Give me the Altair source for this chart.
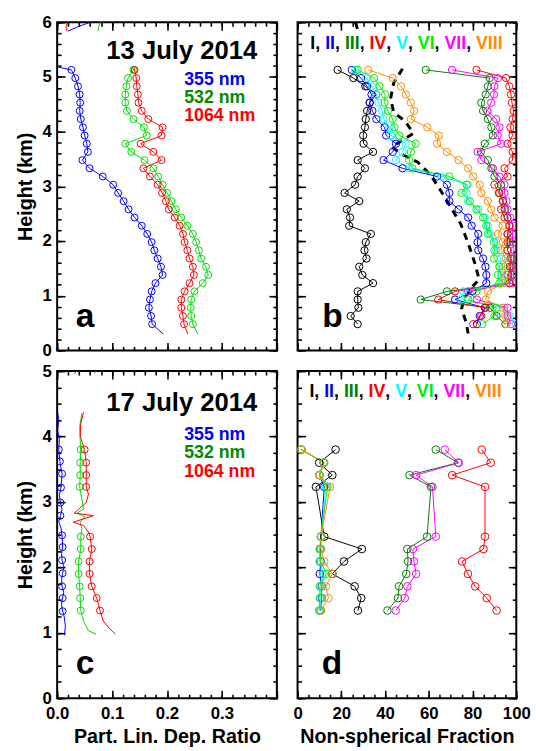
import altair as alt
import pandas as pd

FONT = "Liberation Sans"

# ---------------- Panel a : 13 July 2014, particle linear depolarization ratio ----------------
A_H = [5.13, 4.98, 4.83, 4.68, 4.53, 4.38, 4.23, 4.08, 3.93, 3.78, 3.63, 3.48, 3.33, 3.18, 3.03, 2.88,
       2.73, 2.58, 2.43, 2.28, 2.13, 1.98, 1.83, 1.68, 1.53, 1.38, 1.23, 1.08, 0.93, 0.78, 0.63, 0.48]
A_355 = [0.026, 0.033, 0.038, 0.041, 0.042, 0.041, 0.043, 0.047, 0.050, 0.054, 0.056, 0.046, 0.059, 0.083,
         0.102, 0.111, 0.121, 0.130, 0.141, 0.154, 0.164, 0.172, 0.177, 0.183, 0.189, 0.192, 0.179, 0.172,
         0.169, 0.167, 0.171, 0.173]
A_532 = [0.139, 0.129, 0.126, 0.124, 0.124, 0.127, 0.139, 0.158, 0.163, 0.124, 0.135, 0.159, 0.175, 0.184,
         0.192, 0.200, 0.208, 0.216, 0.226, 0.237, 0.247, 0.253, 0.258, 0.262, 0.271, 0.275, 0.265, 0.250,
         0.244, 0.243, 0.244, 0.247]
A_1064 = [0.141, 0.144, 0.145, 0.147, 0.148, 0.154, 0.166, 0.192, 0.190, 0.152, 0.175, 0.190, 0.157, 0.169,
          0.183, 0.191, 0.198, 0.203, 0.214, 0.223, 0.229, 0.232, 0.237, 0.241, 0.247, 0.249, 0.241, 0.232,
          0.226, 0.226, 0.229, 0.231]
# extra line vertices (profile ends)
A_X_H = [5.18, 0.30]
A_X_355 = [0.002, 0.193]
A_X_532 = [0.137, 0.256]
A_X_1064 = [0.140, 0.238]
# short profile fragments near 6 km
A_F_H = [5.84, 5.92, 6.00]
A_F_355 = [0.020, 0.038, 0.060]
A_F_532 = [0.074, 0.076, 0.078]
A_F_1064 = [0.018, 0.016, 0.019]

# ---------------- Panel b : 13 July 2014, non-spherical fraction ----------------
B_H = A_H
B_I = [18.3, 25.5, 31, 36, 33, 31.8, 31.2, 30.8, 30, 30.2, 34.5, 27.5, 30.8, 27.5, 26.3, 21.5,
       28.2, 22.5, 24, 23.6, 33.5, 31.2, 30.6, 31.5, 28.2, 29.6, 34.5, 27.5, 27.5, 27.8, 24.3, 27.5]
B_II = [24.8, 29, 31.8, 33.8, 33, 34.2, 36, 39.8, 40.5, 45, 43.5, 39.3, 48, 63.8, 68.3, 69.4,
        69.4, 73.6, 78, 79.6, 82.6, 82.3, 82.6, 84.8, 85.9, 86.3, 86.3, 80, 72, 85.6, 83.3, 82]
B_III = [58.6, 87.8, 87, 86, 84, 84.8, 87, 88.6, 89.3, 85.6, 83.8, 87, 88.6, 90, 93, 92,
         94, 95, 96, 97, 96, 97, 96, 98, 97, 98, 97, 68.3, 56.3, 88, 91, 95]
B_IV = [81.8, 95.3, 96.8, 97.6, 98, 98.8, 98.3, 97.3, 98.3, 96, 98.3, 98.3, 94.6, 96, 90, 92.3,
        93.8, 93, 94.6, 96.8, 96, 96, 96, 97.3, 97.6, 96, 96.8, 72, 64.3, 86, 84, 80.3]
B_V = [26.3, 31.5, 34, 36, 37, 38.7, 39.3, 42, 42.8, 49.5, 48, 45, 51, 66, 77.8, 77.3,
       78, 82.6, 85.6, 87, 87.8, 90.8, 90.8, 93, 92.3, 93, 93.8, 75.8, 75, 94.6, 97, 99.8]
B_VI = [27.5, 35, 37.5, 40, 39.8, 41.3, 43.5, 44.3, 46.5, 54, 51.8, 51, 52.5, 69.4, 77.3, 75,
        78.8, 81.8, 84.8, 86.3, 87, 89.8, 90, 89.8, 92.3, 91.6, 92.3, 81.8, 78, 90.8, 90, 84.5]
B_VII = [70.6, 91.6, 90, 89.8, 88.5, 86.8, 90.8, 92.3, 91.5, 93, 82.3, 84, 89.3, 92.3, 94.6, 94.6,
         95.5, 96, 97.3, 98.3, 98.3, 98.3, 99, 99, 98.3, 98.8, 98.3, 78, 82, 96, 96, 97.6]
B_VIII = [32.3, 43.5, 47.3, 49.5, 51.8, 53.3, 51.8, 59.3, 64.6, 63.8, 68.3, 73.6, 78, 80.3, 83.3, 84,
          87, 88.6, 90, 93.8, 91.6, 93.8, 93, 95.3, 94.6, 95.3, 94.6, 87, 86, 93.8, 95, 95.3]
B_DASH_H = [5.15, 4.90, 4.60, 4.35, 4.20, 3.97, 3.72, 3.58, 3.44, 3.20, 2.95, 2.62, 2.32, 1.96, 1.60,
            1.30, 1.12, 0.94, 0.76, 0.52, 0.31]
B_DASH = [48, 44, 42.5, 44, 49, 53, 43, 48, 55, 61, 65, 70, 74.5, 78, 81, 83, 79, 76, 75, 77, 78]
B_F_H = [5.86, 6.00]
B_F = [27.5, 26.5]

# ---------------- Panel c : 17 July 2014, particle linear depolarization ratio ----------------
C_355_H = [3.80, 3.62, 3.43, 3.22, 2.99, 2.79, 2.49, 2.31, 2.11, 1.91, 1.71, 1.53, 1.33]
C_355 = [0.003, 0.005, 0.009, 0.007, 0.006, 0.006, 0.009, 0.010, 0.009, 0.010, 0.009, 0.010, 0.010]
C_H = [3.80, 3.60, 3.41, 3.23, 2.47, 2.28, 2.09, 1.90, 1.71, 1.53, 1.34]
C_532 = [0.043, 0.042, 0.042, 0.041, 0.043, 0.043, 0.039, 0.039, 0.041, 0.042, 0.043]
C_1064 = [0.050, 0.053, 0.053, 0.053, 0.060, 0.063, 0.059, 0.059, 0.063, 0.072, 0.078]
C_X355_H = [4.37, 4.25, 4.10, 3.95, 3.52, 3.10, 2.89, 2.70, 2.60, 2.21, 2.01, 1.81, 1.62, 1.43, 1.24, 1.10, 0.96]
C_X355 = [0.001, 0.003, 0.001, 0.004, 0.007, 0.004, 0.009, 0.003, 0.007, 0.008, 0.012, 0.008, 0.012, 0.008,
          0.013, 0.015, 0.013]
C_X532_H = [4.36, 4.15, 3.95, 3.04, 2.89, 2.83, 2.77, 2.70, 2.59, 1.18, 1.03, 0.98]
C_X532 = [0.045, 0.041, 0.042, 0.045, 0.048, 0.036, 0.051, 0.042, 0.045, 0.048, 0.057, 0.071]
C_X1064_H = [4.37, 4.20, 4.00, 3.12, 2.99, 2.83, 2.79, 2.69, 2.64, 2.54, 1.18, 1.06, 0.98]
C_X1064 = [0.048, 0.043, 0.042, 0.057, 0.053, 0.031, 0.066, 0.029, 0.048, 0.057, 0.084, 0.096, 0.106]
C_F_H = [4.96, 5.00]
C_F_532 = [0.068, 0.071]
C_F_1064 = [0.031, 0.036]

# ---------------- Panel d : 17 July 2014, non-spherical fraction ----------------
D_H = C_H
D_I = [17.4, 9.9, 15.9, 8.4, 12.2, 29.4, 21.2, 15.9, 26.1, 29.1, 27.6]
D_II = [1.7, 12, 10, 12.2, 10.7, 10.5, 10.5, 10.2, 11, 11, 10.5]
D_III = [63.2, 73.4, 51.2, 61, 59.2, 50.2, 50.5, 49.7, 46.4, 45.9, 41.1]
D_IV = [84.2, 88.3, 70.7, 85.7, 85.7, 85, 75.2, 77.9, 81.2, 86.5, 91]
D_V = [1.7, 12, 10, 13, 10.7, 10, 10, 12, 10.8, 10.8, 10.3]
D_VI = [1.7, 12, 10, 13.7, 10.7, 10.3, 10.5, 13.2, 10.2, 10.2, 9.9]
D_VII = [67.3, 73.7, 54.2, 61.7, 63.2, 52.7, 53.2, 54.2, 50.2, 49, 44.9]
D_VIII = [1.7, 12.2, 10.2, 14.9, 10.7, 10.7, 12.2, 15.9, 12.9, 14.1, 10.7]

WL = ["355 nm", "532 nm", "1064 nm"]
WL_LINE_COLORS = ["#0000FF", "#00DD00", "#FF0000"]
WL_TEXT_COLORS = ["#0000FF", "#008C00", "#FF0000"]
ROMAN = ["I", "II", "III", "IV", "V", "VI", "VII", "VIII"]
ROMAN_COLORS = ["#000000", "#0000FF", "#008000", "#FF0000", "#00FFFF", "#00EE00", "#FF00FF", "#FF8C00"]

CORNER = pd.DataFrame({"v": [0.0], "h": [0.0]})


def series(h, v, s, g=None):
    d = pd.DataFrame({"h": h, "v": v})
    d["s"] = s
    d["g"] = g if g is not None else s
    return d


def lines_df(parts):
    out = []
    for p in parts:
        out.append(p.sort_values("h", ascending=False).reset_index(drop=True).assign(i=lambda d: range(len(d))))
    return pd.concat(out, ignore_index=True)


def axis(orient, values, size, labels=False, title=None, fmt=None, expr=None):
    kw = dict(orient=orient, values=values, offset=-size, tickSize=size, tickWidth=1.6,
              tickColor="black", domain=False, grid=False, labels=labels, ticks=True)
    if labels:
        kw.update(labelFont=FONT, labelFontSize=17, labelFontWeight="bold", labelColor="black",
                  labelPadding=8 if orient == "bottom" else 6, labelFlush=False, labelOverlap=False)
        if fmt:
            kw["format"] = fmt
        if expr:
            kw["labelExpr"] = expr
    if title:
        kw.update(title=title, titleFont=FONT, titleFontSize=20, titleFontWeight="bold",
                  titleColor="black", titlePadding=5 if orient == "bottom" else 7)
    else:
        kw["title"] = None
    return alt.Axis(**kw)


def frame(xs, ys, xmaj, xmin, ymaj, ymin, xlab, ylab, xtitle, ytitle, xfmt, xexpr):
    def helper(xa, ya):
        return alt.Chart(CORNER).mark_point(opacity=0, size=1).encode(
            x=alt.X("v:Q", scale=xs, axis=xa), y=alt.Y("h:Q", scale=ys, axis=ya))
    return [
        helper(axis("bottom", xmaj, 8, xlab, xtitle if xlab else None, xfmt, xexpr),
               axis("left", ymaj, 8, ylab, ytitle if ylab else None, "d")),
        helper(axis("bottom", xmin, 4), axis("left", ymin, 4)),
        helper(axis("top", xmaj, 8), axis("right", ymaj, 8)),
        helper(axis("top", xmin, 4), axis("right", ymin, 4)),
    ]


def text(txt, x, y, color, size, align="left"):
    return alt.Chart(CORNER).mark_text(text=txt, align=align, baseline="alphabetic", font=FONT,
                                       fontSize=size, fontWeight="bold", color=color).encode(
        x=alt.value(x), y=alt.value(y))


# advance widths (em) of Liberation Sans Bold glyphs used in the numeral legend
GLYPH_EM = {"I": 0.278, "V": 0.667, ",": 0.278, " ": 0.278}


def roman_legend(x, y, size=18):
    out = []
    for k, (r, c) in enumerate(zip(ROMAN, ROMAN_COLORS)):
        out.append(text(r, x, y, c, size))
        x += sum(GLYPH_EM[ch] for ch in r) * size
        if k < len(ROMAN) - 1:
            out.append(text(",", x, y, "black", size))
            x += (GLYPH_EM[","] + GLYPH_EM[" "]) * size
    return out


def data_layers(line_d, pt_d, xs, ys, dom, rng, size, dash_d=None):
    col = alt.Color("s:N", scale=alt.Scale(domain=dom, range=rng), legend=None)
    layers = []
    if dash_d is not None:
        layers.append(alt.Chart(dash_d).mark_line(color="black", strokeWidth=3, strokeDash=[7, 6],
                                                  clip=True).encode(
            x=alt.X("v:Q", scale=xs, axis=None), y=alt.Y("h:Q", scale=ys, axis=None),
            detail="g:N", order="i:Q"))
    layers.append(alt.Chart(line_d).mark_line(strokeWidth=1, clip=True).encode(
        x=alt.X("v:Q", scale=xs, axis=None), y=alt.Y("h:Q", scale=ys, axis=None),
        color=col, detail="g:N", order="i:Q"))
    layers.append(alt.Chart(pt_d).mark_point(shape="circle", filled=False, size=size, strokeWidth=1,
                                             opacity=1, clip=True).encode(
        x=alt.X("v:Q", scale=xs, axis=None), y=alt.Y("h:Q", scale=ys, axis=None), color=col))
    return layers


XS_DR = alt.Scale(domain=[0, 0.4], nice=False, zero=False)
XS_NS = alt.Scale(domain=[0, 100], nice=False, zero=False)
YS_A = alt.Scale(domain=[0, 6], nice=False, zero=False)
YS_C = alt.Scale(domain=[0, 5], nice=False, zero=False)

DR_MAJ = [0, 0.1, 0.2, 0.3, 0.4]
DR_MIN = [round(i * 0.02, 2) for i in range(21)]
NS_MAJ = [0, 20, 40, 60, 80, 100]
NS_MIN = [i * 5 for i in range(21)]
YA_MAJ = [0, 1, 2, 3, 4, 5, 6]
YA_MIN = [round(i * 0.2, 1) for i in range(31)]
YC_MAJ = [0, 1, 2, 3, 4, 5]
YC_MIN = [i * 0.25 for i in range(21)]
DR_EXPR = "datum.value > 0.35 ? '' : datum.label"

# ---- panel a ----
a_pts = pd.concat([series(A_H, A_355, WL[0]), series(A_H, A_532, WL[1]), series(A_H, A_1064, WL[2])])
a_lines = lines_df([
    series(A_H + A_X_H, A_355 + A_X_355, WL[0]),
    series(A_H + A_X_H, A_532 + A_X_532, WL[1]),
    series(A_H + A_X_H, A_1064 + A_X_1064, WL[2]),
    series(A_F_H, A_F_355, WL[0], "f355"),
    series(A_F_H, A_F_532, WL[1], "f532"),
    series(A_F_H, A_F_1064, WL[2], "f1064"),
])
panel_a = alt.layer(
    *data_layers(a_lines, a_pts, XS_DR, YS_A, WL, WL_LINE_COLORS, 50),
    *frame(XS_DR, YS_A, DR_MAJ, DR_MIN, YA_MAJ, YA_MIN, False, True, None, "Height (km)", ".1f", DR_EXPR),
    text("13 July 2014", 126.5, 37, "black", 26, "center"),
    text(WL[0], 129, 64, WL_TEXT_COLORS[0], 18),
    text(WL[1], 129, 82, WL_TEXT_COLORS[1], 18),
    text(WL[2], 129, 100.5, WL_TEXT_COLORS[2], 18),
    text("a", 19, 309, "black", 34),
).resolve_axis(x="independent", y="independent").properties(width=223, height=333)

# ---- panel b ----
b_vals = [B_I, B_II, B_III, B_IV, B_V, B_VI, B_VII, B_VIII]
b_pts = pd.concat([series(B_H, v, r) for v, r in zip(b_vals, ROMAN)])
b_lines = lines_df([series(B_H, v, r) for v, r in zip(b_vals, ROMAN)])
b_dash = lines_df([series(B_DASH_H, B_DASH, "dash", "d1"), series(B_F_H, B_F, "dash", "d2")])
panel_b = alt.layer(
    *data_layers(b_lines, b_pts, XS_NS, YS_A, ROMAN, ROMAN_COLORS, 55, b_dash),
    *frame(XS_NS, YS_A, NS_MAJ, NS_MIN, YA_MAJ, YA_MIN, False, False, None, None, "d", None),
    *roman_legend(13, 27.5),
    text("b", 25, 309, "black", 34),
).resolve_axis(x="independent", y="independent").properties(width=222, height=333)

# ---- panel c ----
c_pts = pd.concat([series(C_355_H, C_355, WL[0]), series(C_H, C_532, WL[1]), series(C_H, C_1064, WL[2])])
c_lines = lines_df([
    series(C_355_H + C_X355_H, C_355 + C_X355, WL[0]),
    series(C_H + C_X532_H, C_532 + C_X532, WL[1]),
    series(C_H + C_X1064_H, C_1064 + C_X1064, WL[2]),
    series(C_F_H, C_F_532, WL[1], "f532"),
    series(C_F_H, C_F_1064, WL[2], "f1064"),
])
panel_c = alt.layer(
    *data_layers(c_lines, c_pts, XS_DR, YS_C, WL, WL_LINE_COLORS, 50),
    *frame(XS_DR, YS_C, DR_MAJ, DR_MIN, YC_MAJ, YC_MIN, True, True, "Part. Lin. Dep. Ratio", "Height (km)",
           ".1f", DR_EXPR),
    text("17 July 2014", 126.5, 40, "black", 26, "center"),
    text(WL[0], 129, 70, WL_TEXT_COLORS[0], 18),
    text(WL[1], 129, 88.5, WL_TEXT_COLORS[1], 18),
    text(WL[2], 129, 107, WL_TEXT_COLORS[2], 18),
    text("c", 19, 307, "black", 34),
).resolve_axis(x="independent", y="independent").properties(width=223, height=332)

# ---- panel d ----
d_vals = [D_I, D_II, D_III, D_IV, D_V, D_VI, D_VII, D_VIII]
d_pts = pd.concat([series(D_H, v, r) for v, r in zip(d_vals, ROMAN)])
d_lines = lines_df([series(D_H, v, r) for v, r in zip(d_vals, ROMAN)])
panel_d = alt.layer(
    *data_layers(d_lines, d_pts, XS_NS, YS_C, ROMAN, ROMAN_COLORS, 60),
    *frame(XS_NS, YS_C, NS_MAJ, NS_MIN, YC_MAJ, YC_MIN, True, False, "Non-spherical Fraction", None, "d", None),
    *roman_legend(12, 26),
    text("d", 24.5, 307.5, "black", 34),
).resolve_axis(x="independent", y="independent").properties(width=222, height=332)

chart = alt.concat(panel_a, panel_b, panel_c, panel_d, columns=2, spacing=21, bounds="flush").resolve_scale(
    color="independent").properties(
    padding={"left": 14, "top": 7, "right": 4, "bottom": 2},
    background="white",
).configure_view(stroke="black", strokeWidth=2)

chart.save("out.html", embed_options={"renderer": "svg", "actions": False})
